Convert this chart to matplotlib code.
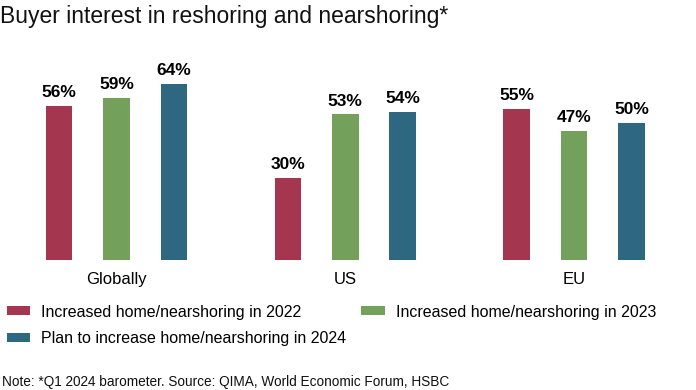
import matplotlib
matplotlib.use("Agg")
import matplotlib.pyplot as plt
import numpy as np

plt.rcParams['font.family'] = ['Liberation Sans', 'DejaVu Sans']

# Data
regions = ['Globally', 'US', 'EU']
series_names = ['Increased home/nearshoring in 2022',
                'Increased home/nearshoring in 2023',
                'Plan to increase home/nearshoring in 2024']
values_2022 = [56, 30, 55]
values_2023 = [59, 53, 47]
values_2024 = [64, 54, 50]
colors = ['#A5364F', '#73A05A', '#2D6880']

W, H = 696, 390
fig = plt.figure(figsize=(W / 100, H / 100), dpi=100)

# axes placed in pixel terms: bar baseline at y=260px, 2.75 px per percent
ax = fig.add_axes([0, 130 / H, 1, 200 / H])
ax.set_ylim(0, 200 / 2.75)
ax.set_xlim(-0.509, 2.533)

x = np.arange(len(regions))
offset = 0.251
width = 0.116

handles = []
for i, (vals, color, name) in enumerate(zip([values_2022, values_2023, values_2024], colors, series_names)):
    bars = ax.bar(x + (i - 1) * offset, vals, width=width, color=color, label=name)
    ax.bar_label(bars, labels=[f'{v}%' for v in vals], padding=4,
                 fontsize=12.5, fontweight='bold', color='black')
    handles.append(bars)

ax.set_xticks(x)
ax.set_xticklabels(regions, fontsize=12)
ax.tick_params(axis='x', length=0, pad=8.5)
ax.set_yticks([])
for s in ax.spines.values():
    s.set_visible(False)

# Title and note
fig.text(0.0, 1 - 23 / H, 'Buyer interest in reshoring and nearshoring*',
         fontsize=16.5, va='baseline', ha='left', color='#111111')
fig.text(0.003, 4 / H, 'Note: *Q1 2024 barometer. Source: QIMA, World Economic Forum, HSBC',
         fontsize=9.8, va='baseline', ha='left', color='#111111')

# Legend (column-wise fill, so reorder to get 2022 | 2023 on row one)
order = [0, 2, 1]
fig.legend([handles[k] for k in order], [series_names[k] for k in order],
           ncol=2, loc='upper left', bbox_to_anchor=(7 / W, 1 - 304.5 / H),
           frameon=False, fontsize=11.5, borderpad=0, borderaxespad=0,
           handlelength=1.45, handleheight=0.5, handletextpad=0.69,
           columnspacing=0.95, labelspacing=0.73)

fig.savefig('out.png', dpi=100)
